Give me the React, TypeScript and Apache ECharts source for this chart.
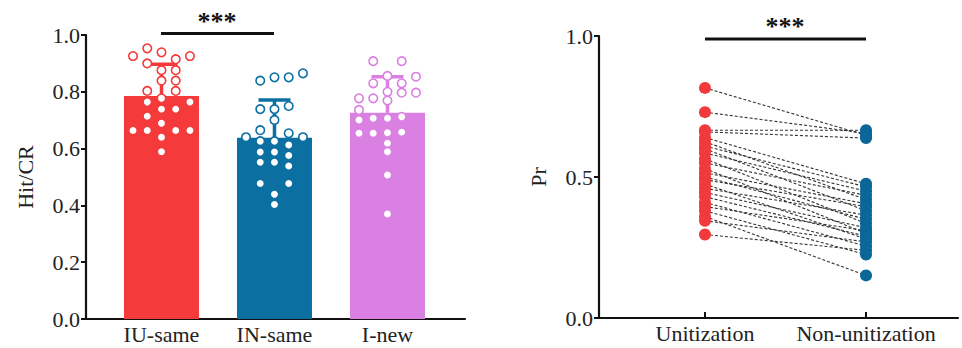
import React, { useEffect, useRef } from "react";
import * as echarts from "echarts";

// ---------- data ----------
const leftCategories = ["IU-same", "IN-same", "I-new"];
const leftMeans = [0.785, 0.638, 0.726];
const leftSD = [0.112, 0.133, 0.127];
const leftYTicks = [0, 0.2, 0.4, 0.6, 0.8, 1.0];

const iuSameValues = [0.926, 0.953, 0.939, 0.915, 0.926, 0.9, 0.876, 0.876, 0.839, 0.839, 0.803, 0.803, 0.777, 0.764, 0.764, 0.739, 0.739, 0.714, 0.689, 0.664, 0.664, 0.664, 0.664, 0.64, 0.589];
const iuSameSlots = [-2, -1, 0, 1, 2, -1, 0, 1, 0, 1, -1, 1, 0, -1, 2, 0, 1, -1, 0, -2, -1, 1, 2, 0, 0];

const inSameValues = [0.839, 0.851, 0.851, 0.865, 0.739, 0.739, 0.75, 0.701, 0.665, 0.64, 0.654, 0.64, 0.626, 0.626, 0.613, 0.588, 0.588, 0.576, 0.552, 0.552, 0.539, 0.477, 0.477, 0.439, 0.403];
const inSameSlots = [-1, 0, 1, 2, -1, 0, 1, 0, -1, -2, 1, 2, -1, 0, 1, -1, 0, 1, -1, 0, 1, -1, 1, 0, 0];

const iNewValues = [0.908, 0.908, 0.856, 0.853, 0.83, 0.83, 0.8, 0.797, 0.797, 0.777, 0.777, 0.769, 0.736, 0.712, 0.707, 0.707, 0.701, 0.658, 0.656, 0.654, 0.654, 0.619, 0.589, 0.507, 0.37];
const iNewSlots = [-1, 1, 0, 2, -1, 1, 0, 1, 2, -2, -1, 0, -2, 1, -1, 0, -2, 1, 0, -1, -2, 0, 0, 0, 0];

const rightCategories = ["Unitization", "Non-unitization"];
const rightYTicks = [0, 0.5, 1.0];
const unitization = [0.816, 0.73, 0.666, 0.66, 0.64, 0.625, 0.61, 0.6, 0.585, 0.565, 0.55, 0.53, 0.515, 0.5, 0.49, 0.475, 0.46, 0.445, 0.43, 0.41, 0.395, 0.38, 0.36, 0.345, 0.296];
const nonUnitization = [0.648, 0.655, 0.666, 0.638, 0.476, 0.42, 0.465, 0.38, 0.45, 0.335, 0.435, 0.3, 0.405, 0.35, 0.395, 0.28, 0.365, 0.32, 0.29, 0.255, 0.31, 0.225, 0.151, 0.27, 0.24];

// ---------- styles ----------
const FONT = "Liberation Serif";
const TEXT = "#222";
const barColors = ["#F43A3B", "#0C6FA2", "#DA80E2"];
const redDot = "#F03A3C";
const blueDot = "#0B6699";
const SLOT = 0.126;

export default function App() {
  const ref = useRef<HTMLDivElement>(null);

  useEffect(() => {
    if (!ref.current) return;
    const chart = echarts.init(ref.current, null, { renderer: "svg" });

    const groups = [
      { values: iuSameValues, slots: iuSameSlots },
      { values: inSameValues, slots: inSameSlots },
      { values: iNewValues, slots: iNewSlots },
    ];

    const axisLine = { show: true, onZero: false, lineStyle: { color: "#111", width: 2.2 } };
    const labelStyle = { color: TEXT, fontFamily: FONT, fontSize: 22 };

    const series: any[] = [];

    series.push({
      type: "bar",
      xAxisIndex: 0,
      yAxisIndex: 0,
      barWidth: 75,
      data: leftMeans.map((m, i) => ({ value: [i, m], itemStyle: { color: barColors[i] } })),
      z: 1,
    });

    series.push({
      type: "custom",
      xAxisIndex: 0,
      yAxisIndex: 0,
      z: 2,
      data: leftMeans.map((m, i) => [i, m, m + leftSD[i]]),
      encode: { x: 0, y: [1, 2] },
      renderItem: (params: any, api: any) => {
        const i = api.value(0);
        const p0 = api.coord([i, api.value(1)]);
        const p1 = api.coord([i, api.value(2)]);
        const c = barColors[params.dataIndex];
        const st = { stroke: c, lineWidth: 3.5 };
        return {
          type: "group",
          children: [
            { type: "line", shape: { x1: p0[0], y1: p0[1], x2: p1[0], y2: p1[1] }, style: st },
            { type: "line", shape: { x1: p1[0] - 16, y1: p1[1], x2: p1[0] + 16, y2: p1[1] }, style: st },
          ],
        };
      },
    });

    groups.forEach((g, i) => {
      series.push({
        type: "scatter",
        xAxisIndex: 0,
        yAxisIndex: 0,
        z: 3,
        symbol: "circle",
        symbolSize: 8.5,
        itemStyle: { color: "#fff", borderColor: barColors[i], borderWidth: 1.6, opacity: 1 },
        data: g.values.map((v, k) => [i + g.slots[k] * SLOT, v]),
      });
    });

    unitization.forEach((u, k) => {
      series.push({
        type: "line",
        xAxisIndex: 1,
        yAxisIndex: 1,
        z: 2,
        symbol: "none",
        silent: true,
        lineStyle: { color: "#333", width: 1.1, type: [3, 2] },
        data: [[0, u], [1, nonUnitization[k]]],
      });
    });

    series.push({
      type: "scatter",
      xAxisIndex: 1,
      yAxisIndex: 1,
      z: 3,
      symbolSize: 12,
      itemStyle: { color: redDot, opacity: 1 },
      data: unitization.map((u) => [0, u]),
    });
    series.push({
      type: "scatter",
      xAxisIndex: 1,
      yAxisIndex: 1,
      z: 3,
      symbolSize: 12,
      itemStyle: { color: blueDot, opacity: 1 },
      data: nonUnitization.map((n) => [1, n]),
    });

    chart.setOption({
      animation: false,
      backgroundColor: "#fff",
      textStyle: { fontFamily: FONT },
      grid: [
        { left: 86, top: 35, width: 379, height: 284 },
        { left: 599, top: 36, width: 359, height: 282 },
      ],
      xAxis: [
        {
          type: "value",
          gridIndex: 0,
          min: -0.668,
          max: 2.686,
          splitLine: { show: false },
          axisLine,
          axisTick: { show: true, inside: true, length: 6, lineStyle: { color: "#111", width: 2 }, customValues: [0, 1, 2] },
          axisLabel: {
            ...labelStyle,
            margin: 4,
            customValues: [0, 1, 2],
            formatter: (v: number) => leftCategories[Math.round(v)] ?? "",
          },
        },
        {
          type: "value",
          gridIndex: 1,
          min: -0.658,
          max: 1.571,
          splitLine: { show: false },
          axisLine,
          axisTick: { show: true, inside: true, length: 6, lineStyle: { color: "#111", width: 2 }, customValues: [0, 1] },
          axisLabel: {
            ...labelStyle,
            margin: 4,
            customValues: [0, 1],
            formatter: (v: number) => rightCategories[Math.round(v)] ?? "",
          },
        },
      ],
      yAxis: [
        {
          type: "value",
          gridIndex: 0,
          min: 0,
          max: 1,
          splitLine: { show: false },
          axisLine,
          axisTick: { show: true, length: 5, lineStyle: { color: "#111", width: 2 }, customValues: leftYTicks },
          axisLabel: { ...labelStyle, margin: 6, customValues: leftYTicks, formatter: (v: number) => v.toFixed(1) },
          name: "Hit/CR",
          nameLocation: "middle",
          nameGap: 50,
          nameTextStyle: { color: TEXT, fontFamily: FONT, fontSize: 22 },
        },
        {
          type: "value",
          gridIndex: 1,
          min: 0,
          max: 1,
          splitLine: { show: false },
          axisLine,
          axisTick: { show: true, length: 5, lineStyle: { color: "#111", width: 2 }, customValues: rightYTicks },
          axisLabel: { ...labelStyle, margin: 6, customValues: rightYTicks, formatter: (v: number) => v.toFixed(1) },
          name: "Pr",
          nameLocation: "middle",
          nameGap: 50,
          nameTextStyle: { color: TEXT, fontFamily: FONT, fontSize: 22 },
        },
      ],
      graphic: [
        { type: "line", shape: { x1: 161, y1: 33.5, x2: 274, y2: 33.5 }, style: { stroke: "#111", lineWidth: 3 } },
        {
          type: "text",
          x: 217,
          y: 21,
          style: { text: "***", fill: "#111", font: `bold 26px "${FONT}"`, textAlign: "center", textVerticalAlign: "middle" },
        },
        { type: "line", shape: { x1: 705, y1: 39, x2: 866, y2: 39 }, style: { stroke: "#111", lineWidth: 3 } },
        {
          type: "text",
          x: 785,
          y: 26,
          style: { text: "***", fill: "#111", font: `bold 26px "${FONT}"`, textAlign: "center", textVerticalAlign: "middle" },
        },
      ],
      series,
    });

    return () => chart.dispose();
  }, []);

  return (
    <div
      ref={ref}
      style={{ position: "fixed", left: 0, top: 0, width: 962, height: 348, background: "#fff" }}
    />
  );
}
